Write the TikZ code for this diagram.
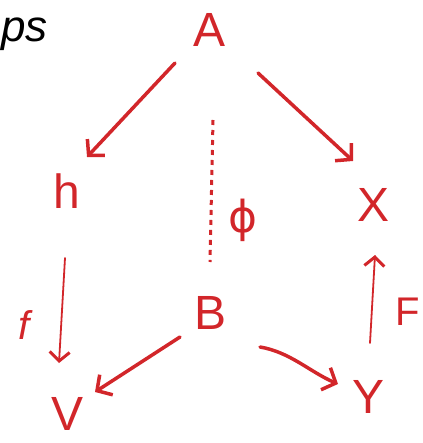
\documentclass[tikz,border=0pt]{standalone}
\usepackage{fontspec}
\setmainfont{Liberation Sans}
\newfontfamily\dejavu{DejaVu Sans}
\usetikzlibrary{arrows.meta}
\definecolor{handred}{RGB}{210,38,42}
\tikzset{
  obj/.style={text=handred, inner sep=0pt, font=\fontsize{48}{48}\selectfont},
  lbl/.style={text=handred, inner sep=0pt, font=\fontsize{40}{40}\selectfont},
  marr/.style={draw=handred, line width=3.5pt, line cap=round, line join=round,
    -{Straight Barb[length=11pt,width=24pt,line width=3.5pt]}},
  thinarr/.style={draw=handred, line width=1.8pt, line cap=round, line join=round,
    -{Straight Barb[length=9pt,width=20pt,line width=3pt]}},
  dots/.style={draw=handred, line width=3pt, dash pattern=on 5pt off 5pt}
}
\begin{document}
\begin{tikzpicture}[x=1pt,y=-1pt]
\useasboundingbox (0,0) rectangle (422,443);
\node[inner sep=0pt, anchor=west, font=\itshape\fontsize{44}{44}\selectfont] (ps) at (1,34) {ps};
\node[obj] (A) at (210,30) {A};
\node[obj] (U) at (67,191) {h};
\node[obj] (X) at (373,205) {X};
\node[obj] (B) at (211,313) {B};
\node[obj] (V) at (68,414) {V};
\node[obj] (Y) at (368,397) {Y};
\node[lbl, font=\dejavu\fontsize{44}{44}\selectfont] (phi) at (243,220) {ϕ};
\node[lbl, font=\itshape\fontsize{40}{40}\selectfont] (f) at (24,325) {f};
\node[lbl] (F) at (408,312) {F};
\coordinate (a1) at (175,63);
\coordinate (a2) at (87,157);
\coordinate (a3) at (258,73);
\coordinate (a4) at (353,161);
\coordinate (d1) at (213,120);
\coordinate (d2) at (210,262);
\coordinate (f1) at (65,258);
\coordinate (f2) at (59,363);
\coordinate (b1) at (180,337);
\coordinate (b2) at (95,392);
\coordinate (b3) at (260,347);
\coordinate (b4) at (338,384);
\coordinate (F1) at (370,343);
\coordinate (F2) at (375,255);
\draw[marr] (a1) -- (a2);
\draw[marr] (a3) -- (a4);
\draw[dots] (d1) -- (d2);
\draw[thinarr] (f1) -- (f2);
\draw[marr] (b1) -- (b2);
\draw[marr] (b3) .. controls (290,352) and (310,372) .. (b4);
\draw[thinarr] (F1) -- (F2);
\end{tikzpicture}
\end{document}
